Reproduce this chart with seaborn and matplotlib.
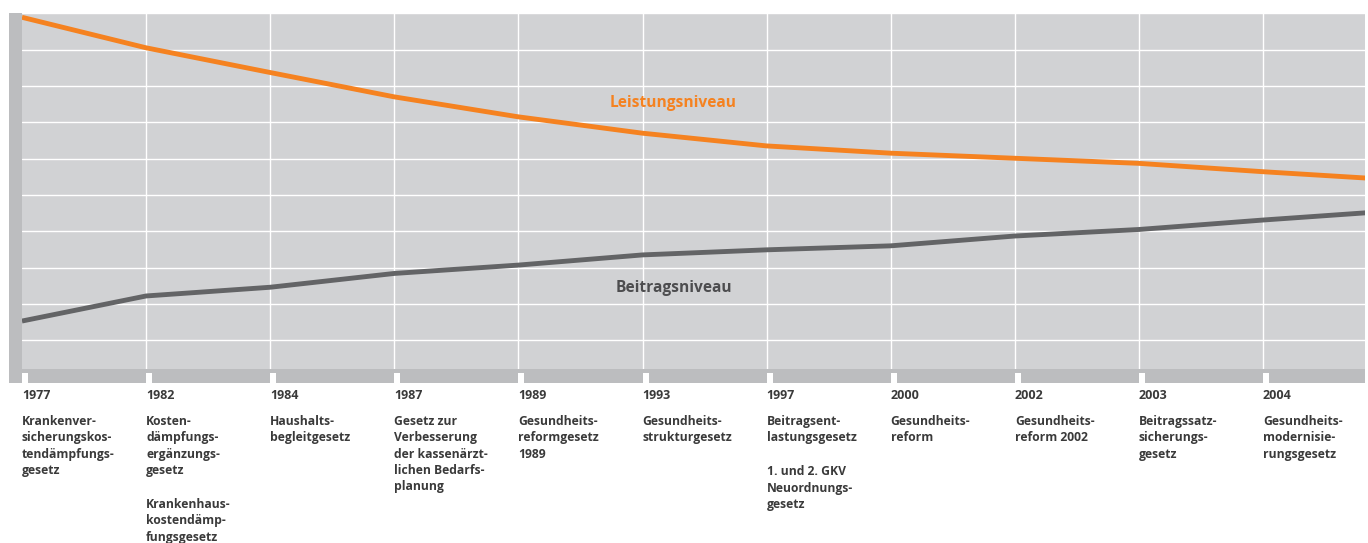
import numpy as np
import pandas as pd
import matplotlib
matplotlib.use("Agg")
import matplotlib.pyplot as plt
import seaborn as sns
from matplotlib.patches import Rectangle
from matplotlib.transforms import blended_transform_factory

# ---------------- data ----------------
years = ["1977", "1982", "1984", "1987", "1989", "1993", "1997", "2000", "2002", "2003", "2004"]
laws = [
    "Krankenver-\nsicherungskos-\ntendämpfungs-\ngesetz",
    "Kosten-\ndämpfungs-\nergänzungs-\ngesetz\n\nKrankenhaus-\nkostendämp-\nfungsgesetz",
    "Haushalts-\nbegleitgesetz",
    "Gesetz zur\nVerbesserung\nder kassenärzt-\nlichen Bedarfs-\nplanung",
    "Gesundheits-\nreformgesetz\n1989",
    "Gesundheits-\nstrukturgesetz",
    "Beitragsent-\nlastungsgesetz\n\n1. und 2. GKV\nNeuordnungs-\ngesetz",
    "Gesundheits-\nreform",
    "Gesundheits-\nreform 2002",
    "Beitragssatz-\nsicherungs-\ngesetz",
    "Gesundheits-\nmodernisie-\nrungsgesetz",
]
# level at each reform step (last value = continuation beyond 2004)
leistungsniveau = [9.89, 9.05, 8.37, 7.70, 7.15, 6.70, 6.35, 6.15, 6.01, 5.87, 5.64, 5.43]
beitragsniveau = [1.53, 2.22, 2.46, 2.84, 3.07, 3.35, 3.49, 3.60, 3.87, 4.05, 4.31, 4.55]
series_names = ["Leistungsniveau", "Beitragsniveau"]

# ---------------- style ----------------
ORANGE = "#F58220"
DGRAY = "#636466"
BG = "#D1D2D4"
BAND = "#BCBDBF"
TXT = "#3A3A3A"

sns.set_style("white")
plt.rcParams["font.family"] = ["Open Sans", "DejaVu Sans"]

W, H = 1368, 543
fig = plt.figure(figsize=(W / 100, H / 100), dpi=100)
ax_left, ax_right, ax_top, ax_bot = 22, 1365, 13.3, 369
ax = fig.add_axes([ax_left / W, (H - ax_bot) / H, (ax_right - ax_left) / W, (ax_bot - ax_top) / H])

steps = np.arange(len(leistungsniveau))
df = pd.DataFrame({
    "step": np.concatenate([steps, steps]),
    "value": leistungsniveau + beitragsniveau,
    "series": [series_names[0]] * len(steps) + [series_names[1]] * len(steps),
})

ax.set_facecolor(BG)
xmax = (ax_right - ax_left) / 124.1
ax.set_xlim(0, xmax)
ax.set_ylim(0.21, 10.0)
ax.set_xticks(np.arange(1, len(years)))
ax.set_yticks(np.arange(1, 11))
ax.grid(True, color="white", linewidth=1.0)
ax.set_axisbelow(True)
ax.tick_params(length=0, labelbottom=False, labelleft=False)
for s in ax.spines.values():
    s.set_visible(False)

sns.lineplot(data=df, x="step", y="value", hue="series",
             palette={series_names[0]: ORANGE, series_names[1]: DGRAY},
             linewidth=3.5, legend=False, ax=ax, zorder=3)
ax.set_xlabel("")
ax.set_ylabel("")
for ln in ax.get_lines():
    ln.set_solid_capstyle("butt")

# series labels
ax.text(5.25, 7.42, series_names[0], color=ORANGE, fontsize=11.2, fontweight="bold",
        ha="center", va="baseline", zorder=4)
ax.text(5.25, 2.34, series_names[1], color="#4D4D4F", fontsize=11.2, fontweight="bold",
        ha="center", va="baseline", zorder=4)

# frame: left bar and bottom band (behind the axes)
fig.patches.append(Rectangle((9 / W, (H - 383) / H), 13 / W, (383 - ax_top) / H,
                             transform=fig.transFigure, facecolor=BAND, edgecolor="none", zorder=-2))
fig.patches.append(Rectangle((9 / W, (H - 383) / H), (ax_right - 9) / W, (383 - ax_bot) / H,
                             transform=fig.transFigure, facecolor=BAND, edgecolor="none", zorder=-2))

trans = blended_transform_factory(ax.transData, fig.transFigure)
notch_w = 6 / 124.1
for i in range(len(years)):
    ax.add_patch(Rectangle((i, (H - 383) / H), notch_w, (383 - 373) / H, transform=trans,
                           facecolor="white", edgecolor="none", clip_on=False, zorder=5))

# x labels
line_h = 16.3
for i, (yr, law) in enumerate(zip(years, laws)):
    ax.text(i, (H - 399) / H, yr, transform=trans, ha="left", va="baseline",
            fontsize=9.0, fontweight="bold", color=TXT, clip_on=False)
    lines = law.split("\n")
    for k, line in enumerate(lines):
        if not line:
            continue
        extra = 1.5 if "" in lines and k > lines.index("") else 0
        yb = 425 + k * line_h + extra
        ax.text(i, (H - yb) / H, line, transform=trans, ha="left", va="baseline",
                fontsize=8.7, fontweight="bold", color=TXT, clip_on=False)

fig.savefig("out.png", dpi=100, facecolor="white")
